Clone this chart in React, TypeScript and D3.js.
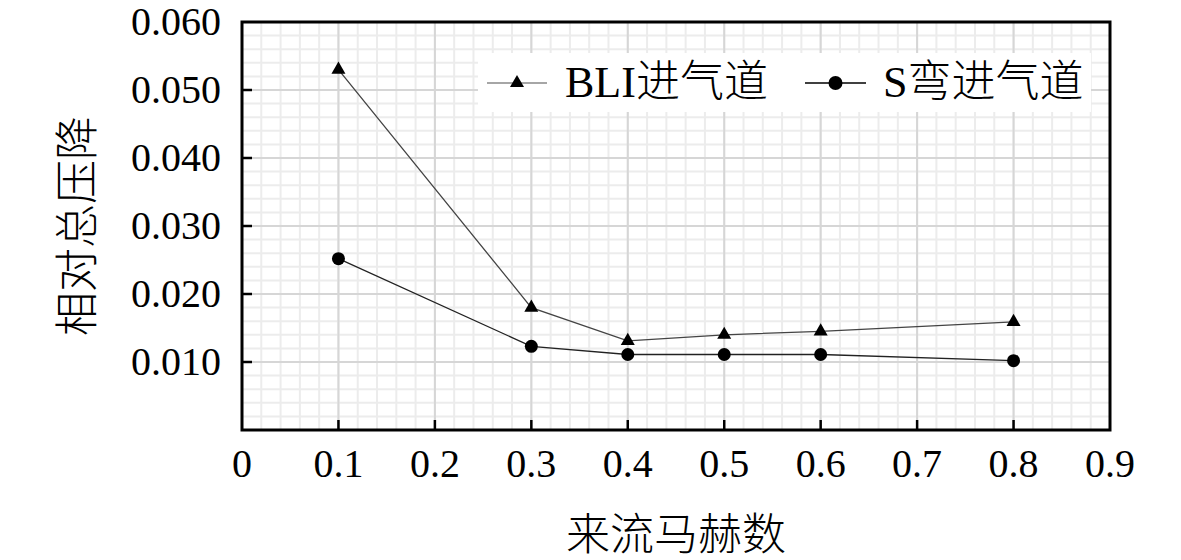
import React, { useEffect, useRef } from "react";
import * as d3 from "d3";

// Mach numbers and relative total pressure loss
const machNumbers = [0.1, 0.3, 0.4, 0.5, 0.6, 0.8];
const bliLoss = [0.053, 0.018, 0.0131, 0.014, 0.0145, 0.0159];
const sDuctLoss = [0.0252, 0.0123, 0.0111, 0.0111, 0.0111, 0.0102];

const xTicks = [0, 0.1, 0.2, 0.3, 0.4, 0.5, 0.6, 0.7, 0.8, 0.9];
const yTicks = [0.01, 0.02, 0.03, 0.04, 0.05, 0.06];

const seriesNames = ["BLI进气道", "S弯进气道"];
const xTitle = "来流马赫数";
const yTitle = "相对总压降";

const WIDTH = 1181;
const HEIGHT = 560;
const FONT = "'Liberation Serif', 'Noto Sans CJK SC', serif";

const App = () => {
  const svgRef = useRef<SVGSVGElement>(null);

  useEffect(() => {
    if (!svgRef.current) return;
    const svg = d3.select(svgRef.current);
    svg.selectAll("*").remove();

    const left = 242;
    const right = 1110;
    const top = 22;
    const bottom = 430;

    const x = d3.scaleLinear().domain([0, 0.9]).range([left, right]);
    const y = d3.scaleLinear().domain([0, 0.06]).range([bottom, top]);

    svg.append("rect").attr("width", WIDTH).attr("height", HEIGHT).attr("fill", "#fff");

    // minor grid
    const g = svg.append("g");
    const xMinor = d3.range(0, 91, 2).map((d) => d / 100);
    const yMinor = d3.range(0, 61, 2).map((d) => d / 1000);
    g.selectAll(".xminor")
      .data(xMinor)
      .enter()
      .append("line")
      .attr("x1", (d) => x(d))
      .attr("x2", (d) => x(d))
      .attr("y1", top)
      .attr("y2", bottom)
      .attr("stroke", "#ececec")
      .attr("stroke-width", 2);
    g.selectAll(".yminor")
      .data(yMinor)
      .enter()
      .append("line")
      .attr("x1", left)
      .attr("x2", right)
      .attr("y1", (d) => y(d))
      .attr("y2", (d) => y(d))
      .attr("stroke", "#ececec")
      .attr("stroke-width", 2);

    // major grid
    g.selectAll(".xmajor")
      .data(xTicks)
      .enter()
      .append("line")
      .attr("x1", (d) => x(d))
      .attr("x2", (d) => x(d))
      .attr("y1", top)
      .attr("y2", bottom)
      .attr("stroke", "#d6d6d6")
      .attr("stroke-width", 2);
    g.selectAll(".ymajor")
      .data(yTicks)
      .enter()
      .append("line")
      .attr("x1", left)
      .attr("x2", right)
      .attr("y1", (d) => y(d))
      .attr("y2", (d) => y(d))
      .attr("stroke", "#d6d6d6")
      .attr("stroke-width", 2);

    // series
    const line = d3
      .line<number>()
      .x((_, i) => x(machNumbers[i]))
      .y((d) => y(d));

    svg
      .append("path")
      .attr("d", line(bliLoss))
      .attr("fill", "none")
      .attr("stroke", "#444")
      .attr("stroke-width", 1.3);
    svg
      .append("path")
      .attr("d", line(sDuctLoss))
      .attr("fill", "none")
      .attr("stroke", "#222")
      .attr("stroke-width", 1.3);

    const tri = d3.symbol().type(d3.symbolTriangle).size(85);
    svg
      .selectAll(".tri")
      .data(bliLoss)
      .enter()
      .append("path")
      .attr("d", tri)
      .attr("transform", (d, i) => `translate(${x(machNumbers[i])},${y(d)})`)
      .attr("fill", "#000");
    svg
      .selectAll(".dot")
      .data(sDuctLoss)
      .enter()
      .append("circle")
      .attr("cx", (_, i) => x(machNumbers[i]))
      .attr("cy", (d) => y(d))
      .attr("r", 6.5)
      .attr("fill", "#000");

    // frame
    svg
      .append("rect")
      .attr("x", left)
      .attr("y", top)
      .attr("width", right - left)
      .attr("height", bottom - top)
      .attr("fill", "none")
      .attr("stroke", "#000")
      .attr("stroke-width", 3);

    // inward ticks
    svg
      .selectAll(".xtick")
      .data(xTicks.slice(1, -1))
      .enter()
      .append("line")
      .attr("x1", (d) => x(d))
      .attr("x2", (d) => x(d))
      .attr("y1", bottom)
      .attr("y2", bottom - 10)
      .attr("stroke", "#000")
      .attr("stroke-width", 2.5);
    svg
      .selectAll(".ytick")
      .data(yTicks.slice(0, -1))
      .enter()
      .append("line")
      .attr("x1", left)
      .attr("x2", left + 10)
      .attr("y1", (d) => y(d))
      .attr("y2", (d) => y(d))
      .attr("stroke", "#000")
      .attr("stroke-width", 2.5);

    // tick labels
    svg
      .selectAll(".xlabel")
      .data(xTicks)
      .enter()
      .append("text")
      .attr("x", (d) => x(d))
      .attr("y", 477)
      .attr("text-anchor", "middle")
      .style("font-family", FONT)
      .style("font-size", "40px")
      .text((d) => (d === 0 ? "0" : d3.format(".1f")(d)));
    svg
      .selectAll(".ylabel")
      .data(yTicks)
      .enter()
      .append("text")
      .attr("x", 221)
      .attr("y", (d) => y(d) + 13)
      .attr("text-anchor", "end")
      .style("font-family", FONT)
      .style("font-size", "40px")
      .text((d) => d3.format(".3f")(d));

    // axis titles
    svg
      .append("text")
      .attr("x", (left + right) / 2)
      .attr("y", 550)
      .attr("text-anchor", "middle")
      .style("font-family", FONT)
      .style("font-size", "44px")
      .style("font-weight", 300)
      .text(xTitle);
    svg
      .append("text")
      .attr("transform", "translate(78,226) rotate(-90)")
      .attr("text-anchor", "middle")
      .attr("dominant-baseline", "central")
      .style("font-family", FONT)
      .style("font-size", "44px")
      .style("font-weight", 300)
      .text(yTitle);

    // legend
    const lg = svg.append("g");
    lg.append("rect")
      .attr("x", 478)
      .attr("y", 53)
      .attr("width", 613)
      .attr("height", 59)
      .attr("fill", "#fff");
    const legendY = 83;
    const entries = [
      { name: seriesNames[0], x0: 487, x1: 547, text: 565, color: "#888", mark: "tri" },
      { name: seriesNames[1], x0: 805, x1: 866, text: 883, color: "#000", mark: "dot" },
    ];
    entries.forEach((e) => {
      lg.append("line")
        .attr("x1", e.x0)
        .attr("x2", e.x1)
        .attr("y1", legendY)
        .attr("y2", legendY)
        .attr("stroke", e.color)
        .attr("stroke-width", 1.3);
      const cx = (e.x0 + e.x1) / 2;
      if (e.mark === "tri") {
        lg.append("path")
          .attr("d", tri)
          .attr("transform", `translate(${cx},${legendY})`)
          .attr("fill", "#000");
      } else {
        lg.append("circle").attr("cx", cx).attr("cy", legendY).attr("r", 7).attr("fill", "#000");
      }
      lg.append("text")
        .attr("x", e.text)
        .attr("y", 97)
        .style("font-family", FONT)
        .style("font-size", "44px")
        .style("font-weight", 300)
        .text(e.name);
    });
  }, []);

  return (
    <svg
      ref={svgRef}
      width={WIDTH}
      height={HEIGHT}
      style={{ position: "absolute", left: 0, top: 0, display: "block" }}
    />
  );
};

export default App;
